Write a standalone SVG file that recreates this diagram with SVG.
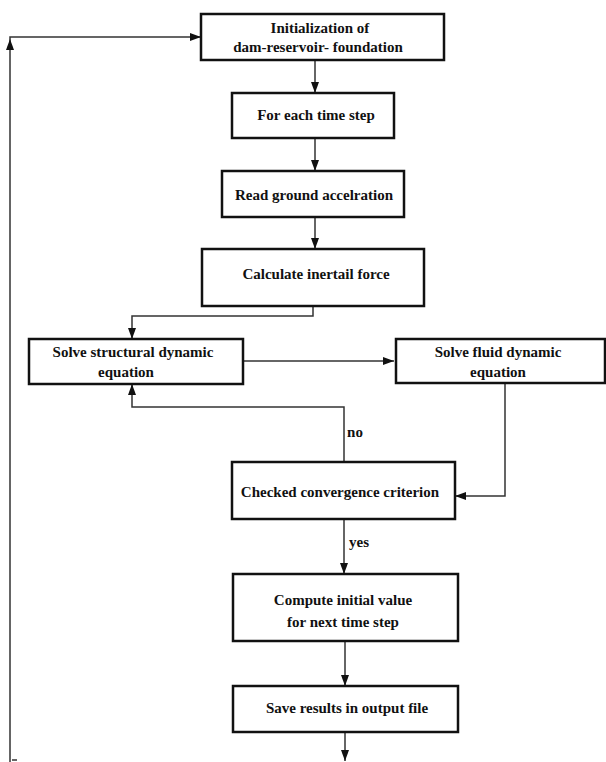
<svg xmlns="http://www.w3.org/2000/svg" width="606" height="762" viewBox="0 0 606 762">
<defs>
<marker id="ah" markerUnits="userSpaceOnUse" markerWidth="12" markerHeight="10" refX="11" refY="4" orient="auto">
<path d="M0,0 L11,4 L0,8 Z" fill="#111"/>
</marker>
<style>
.box{fill:#fff;stroke:#111;stroke-width:2.5}
text{font-family:'Liberation Serif','Times New Roman','DejaVu Serif',serif;font-weight:bold;font-size:15px;fill:#111;text-anchor:middle}
.c{fill:none;stroke:#333;stroke-width:1.5}
.ca{fill:none;stroke:#333;stroke-width:1.5;marker-end:url(#ah)}
</style>
</defs>
<rect width="606" height="762" fill="#fff"/>
<g id="connectors">
<path class="ca" d="M315,60 V93"/>
<path class="ca" d="M315,138 V171"/>
<path class="ca" d="M315,217 V249"/>
<path class="ca" d="M313,306 V316 H132 V339"/>
<path class="ca" d="M243,361 H394"/>
<path class="ca" d="M505,383 V496 H455"/>
<path class="ca" d="M344,462 V407 H132 V384"/>
<path class="ca" d="M344,519 V574"/>
<path class="ca" d="M345,641 V686"/>
<path class="ca" d="M345,732 V761"/>
<path class="ca" d="M10,762 V37 H201"/>
<path d="M6,50 L10,39 L14,50 Z" fill="#111"/>
<path class="c" d="M12,760 H17"/>
<text x="355" y="437" font-family="Liberation Serif, serif">no</text>
<text x="359" y="547" font-family="Liberation Serif, serif">yes</text>
</g>
<g id="n1" font-family="Liberation Serif, serif"><rect class="box" x="201" y="14" width="243" height="46"/>
<text x="320" y="33">Initialization of</text>
<text x="318" y="52">dam-reservoir- foundation</text></g>
<g id="n2"><rect class="box" x="232" y="93" width="162" height="45"/>
<text x="316" y="120">For each time step</text></g>
<g id="n3"><rect class="box" x="222" y="171" width="182" height="46"/>
<text x="314" y="200">Read ground accelration</text></g>
<g id="n4"><rect class="box" x="202" y="249" width="222" height="57"/>
<text x="316" y="279">Calculate inertail force</text></g>
<g id="n5"><rect class="box" x="29" y="339" width="214" height="45"/>
<text x="133" y="357">Solve structural dynamic</text>
<text x="126" y="377">equation</text></g>
<g id="n6"><rect class="box" x="396" y="339" width="209" height="44"/>
<text x="498" y="357">Solve fluid dynamic</text>
<text x="498" y="377">equation</text></g>
<g id="n7"><rect class="box" x="232" y="462" width="223" height="57"/>
<text x="340" y="497">Checked convergence criterion</text></g>
<g id="n8"><rect class="box" x="233" y="574" width="225" height="67"/>
<text x="343" y="605">Compute initial value</text>
<text x="343" y="627">for next time step</text></g>
<g id="n9"><rect class="box" x="233" y="686" width="225" height="46"/>
<text x="347" y="713">Save results in output file</text></g>
</svg>
